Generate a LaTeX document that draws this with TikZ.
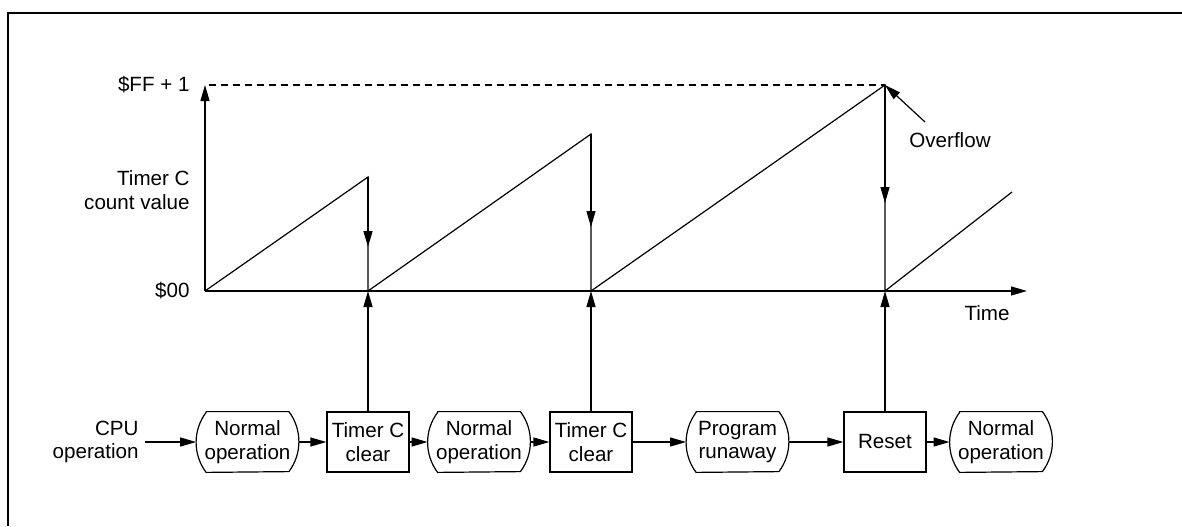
\documentclass[tikz,border=0pt]{standalone}
\usepackage{fontspec}
\setmainfont{Liberation Sans}
\usetikzlibrary{arrows.meta}
\newcommand\opframe[1]{\draw[line] ([xshift=5pt]#1.north west) -- ([xshift=-5pt]#1.north east) arc[start angle=36.87,end angle=-36.87,radius=25pt] -- ([xshift=5pt]#1.south west) arc[start angle=216.87,end angle=143.13,radius=25pt] -- cycle;}
\begin{document}
\begin{tikzpicture}[x=0.5pt,y=0.5pt,
  line/.style={line width=0.6pt},
  tip/.style={-{Triangle[length=8pt,width=4.5pt]}},
  lbl/.style={font=\fontsize{10.3}{11.8}\selectfont, inner sep=0pt, align=center},
  opnode/.style={lbl, minimum width=51pt, minimum height=30pt},
  boxnode/.style={lbl, draw, line width=0.6pt, minimum width=41pt, minimum height=30pt},
]
\useasboundingbox (0,0) rectangle (1182,526);
\draw[line width=0.9pt] (8,0) -- (8,513) -- (1182,513);

% graph coordinates
\coordinate (o) at (205,235);
\coordinate (ytop) at (205,441);
\coordinate (xend) at (1027,235);
\coordinate (p1) at (368,349); \coordinate (b1) at (368,235); \coordinate (m1) at (368,279);
\coordinate (p2) at (591,392); \coordinate (b2) at (591,235); \coordinate (m2) at (591,299);
\coordinate (p3) at (885,441); \coordinate (b3) at (885,235); \coordinate (m3) at (885,323);
\coordinate (p4) at (1012,334);
\coordinate (ovt) at (925,404);

\draw[line,tip] (o) -- (ytop);
\draw[line,tip] (o) -- (xend);
\draw[line,dash pattern=on 3.5pt off 2.5pt] ([xshift=2pt]ytop) -- (p3);
\draw[line] (o) -- (p1) -- (b1) -- (p2) -- (b2) -- (p3) -- (b3) -- (p4);
\draw[line,tip] (p1) -- (m1);
\draw[line,tip] (p2) -- (m2);
\draw[line,tip] (p3) -- (m3);
\draw[line,tip] (ovt) -- (p3);

\node[lbl] (ovf) at (950,386) {Overflow};
\node[lbl,anchor=east] (ff) at (190,441) {\$FF + 1};
\node[lbl,anchor=east,align=right] (tcv) at (190,336) {Timer C\\count value};
\node[lbl,anchor=east] (zero) at (190,235) {\$00};
\node[lbl] (time) at (987,213) {Time};

% bottom row
\node[lbl,anchor=east,align=right] (cpu) at (139,84) {CPU\\operation};
\node[opnode] (op1) at (247.5,84) {Normal\\operation};
\node[boxnode] (clr1) at (368,84) {Timer C\\clear};
\node[opnode] (op2) at (479,84) {Normal\\operation};
\node[boxnode] (clr2) at (591,84) {Timer C\\clear};
\node[opnode] (run) at (737.5,84) {Program\\runaway};
\node[boxnode] (reset) at (885,84) {Reset};
\node[opnode] (op3) at (1001,84) {Normal\\operation};
\opframe{op1}
\opframe{op2}
\opframe{run}
\opframe{op3}

\draw[line,tip] ([xshift=3pt]cpu.east) -- (op1.west);
\draw[line,tip] (op1.east) -- (clr1.west);
\draw[line,tip] (clr1.east) -- (op2.west);
\draw[line,tip] (op2.east) -- (clr2.west);
\draw[line,tip] (clr2.east) -- (run.west);
\draw[line,tip] (run.east) -- (reset.west);
\draw[line,tip] (reset.east) -- (op3.west);

\draw[line,tip] (clr1.north) -- (b1);
\draw[line,tip] (clr2.north) -- (b2);
\draw[line,tip] (reset.north) -- (b3);
\end{tikzpicture}
\end{document}
